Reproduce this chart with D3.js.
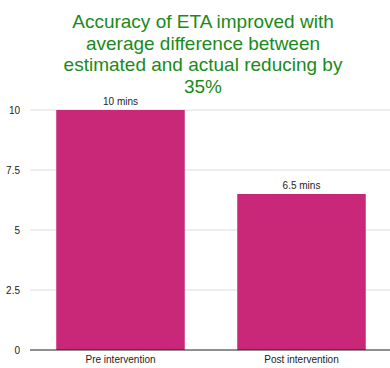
<!DOCTYPE html>
<html>
<head>
<meta charset="utf-8">
<script src="https://d3js.org/d3.v7.min.js"></script>
<style>
  body { margin: 0; background: #fff; }
  text { font-family: "Liberation Sans", Arial, sans-serif; }
</style>
</head>
<body>
<div id="chart"></div>
<script>
// data
var categories = ["Pre intervention", "Post intervention"];
var values = [10, 6.5];
var valueLabels = ["10 mins", "6.5 mins"];
var yTicks = [0, 2.5, 5, 7.5, 10];
var titleLines = ["Accuracy of ETA improved with", "average difference between", "estimated and actual reducing by", "35%"];

var W = 390, H = 368;
var margin = {top: 110, right: -2, bottom: 18, left: 30};
var width = W - margin.left - margin.right;
var height = H - margin.top - margin.bottom;

var svg = d3.select("#chart").append("svg")
    .attr("width", W)
    .attr("height", H);

// title
svg.append("text")
    .attr("x", 203)
    .attr("y", 28)
    .attr("text-anchor", "middle")
    .attr("fill", "#1a8a1a")
    .style("font-size", "19px")
    .selectAll("tspan")
    .data(titleLines)
    .join("tspan")
    .attr("x", 203)
    .attr("dy", function(d, i) { return i === 0 ? 0 : 21.5; })
    .text(function(d) { return d; });

var g = svg.append("g")
    .attr("transform", "translate(" + margin.left + "," + margin.top + ")");

var x = d3.scaleBand()
    .domain(categories)
    .range([0, width])
    .paddingInner(0.29)
    .paddingOuter(0.145);

var y = d3.scaleLinear()
    .domain([0, 10])
    .range([height, 0]);

// gridlines
g.selectAll(".grid")
    .data(yTicks.filter(function(d) { return d > 0; }))
    .join("line")
    .attr("class", "grid")
    .attr("x1", 0)
    .attr("x2", width)
    .attr("y1", function(d) { return y(d); })
    .attr("y2", function(d) { return y(d); })
    .attr("stroke", "#dcdcdc")
    .attr("stroke-width", 1);

// y labels
g.selectAll(".ylab")
    .data(yTicks)
    .join("text")
    .attr("class", "ylab")
    .attr("x", -10)
    .attr("y", function(d) { return y(d); })
    .attr("dy", "0.35em")
    .attr("text-anchor", "end")
    .style("font-size", "10px")
    .attr("fill", "#222")
    .text(function(d) { return d; });

// bars
g.selectAll(".bar")
    .data(values)
    .join("rect")
    .attr("class", "bar")
    .attr("x", function(d, i) { return x(categories[i]); })
    .attr("y", function(d) { return y(d); })
    .attr("width", x.bandwidth())
    .attr("height", function(d) { return height - y(d); })
    .attr("fill", "#c92878");

// value labels
g.selectAll(".vlab")
    .data(values)
    .join("text")
    .attr("class", "vlab")
    .attr("x", function(d, i) { return x(categories[i]) + x.bandwidth() / 2; })
    .attr("y", function(d) { return y(d) - 5; })
    .attr("text-anchor", "middle")
    .style("font-size", "10px")
    .attr("fill", "#222")
    .text(function(d, i) { return valueLabels[i]; });

// baseline
g.append("line")
    .attr("x1", 0)
    .attr("x2", width)
    .attr("y1", height)
    .attr("y2", height)
    .attr("stroke", "#222")
    .attr("stroke-width", 1.2);

// x labels
g.append("g")
    .attr("transform", "translate(0," + height + ")")
    .call(d3.axisBottom(x).tickSize(0).tickPadding(6))
    .call(function(a) { a.select(".domain").remove(); })
    .selectAll("text")
    .style("font-size", "10px")
    .style("font-family", "'Liberation Sans', Arial, sans-serif")
    .attr("fill", "#222");
</script>
</body>
</html>
